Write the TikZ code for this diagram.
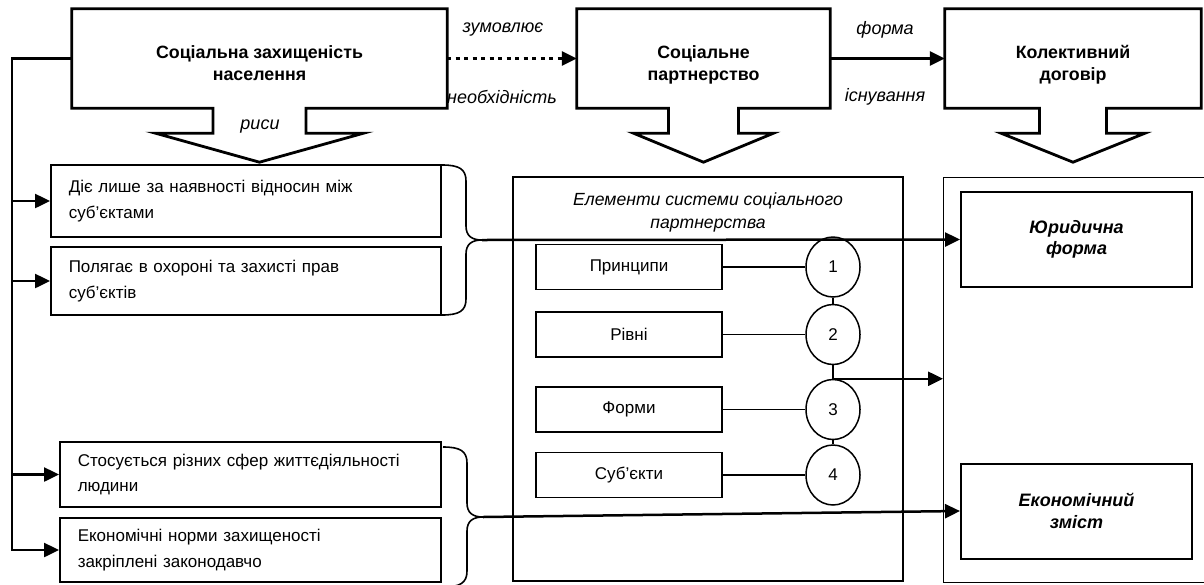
\documentclass[tikz,border=0pt]{standalone}
\usepackage{fontspec}
\setmainfont{Liberation Sans}
\usetikzlibrary{calc,positioning,arrows.meta,shapes.geometric}
\tikzset{
    calloutbox/.style={minimum width=#1, minimum height=99pt, inner sep=0pt, align=center, text height=44pt, text depth=0pt, font=\bfseries\fontsize{17.8}{22}\selectfont},
    callout/.style={line width=2.8pt},
    feature/.style={draw, line width=1.5pt, align=left, anchor=west, inner xsep=18pt, inner ysep=0pt, font=\fontsize{17}{25.5}\selectfont},
    element/.style={draw, line width=1.5pt, minimum width=186pt, minimum height=45pt, inner sep=0pt, font=\fontsize{17}{20}\selectfont},
    num/.style={draw, ellipse, line width=1.5pt, minimum width=54pt, minimum height=60pt, inner sep=0pt, font=\fontsize{17}{20}\selectfont},
    form/.style={draw, line width=2pt, minimum width=231pt, minimum height=95pt, align=center, font=\bfseries\itshape\fontsize{18}{21.5}\selectfont},
    frame/.style={draw, line width=1.4pt, inner sep=0pt},
    line/.style={line width=2.5pt},
    arrow/.style={line width=2.5pt, -{Triangle[length=15pt,width=14pt]}},
    thinline/.style={line width=1.6pt},
    lbl/.style={font=\itshape\fontsize{18}{20}\selectfont},
}
% outline of a box with a down arrow below it
\newcommand{\calloutshape}[3]{%
    \draw[callout] (#1.north west) -- (#1.north east) -- (#1.south east)
        -- ($(#1.south)+(#2,0)$) -- ++(0,25) -- ($(#1.south)+(#3,25)$)
        -- ($(#1.south)+(0,54)$) -- ($(#1.south)+(-#3,25)$)
        -- ($(#1.south)+(-#2,25)$) -- ($(#1.south)+(-#2,0)$) -- (#1.south west) -- cycle;}
% curly brace: x, top, bottom, name of its tip
\newcommand{\tuborg}[4]{%
    \pgfmathsetmacro{\midy}{(#2+#3)/2}
    \draw[thinline] (#1,#2) .. controls (#1+17,#2) and (#1+24,#2+4) .. (#1+24,#2+16)
        -- (#1+24,\midy-14) .. controls (#1+24,\midy-4) and (#1+30,\midy) .. (#1+40,\midy)
        .. controls (#1+30,\midy) and (#1+24,\midy+4) .. (#1+24,\midy+14)
        -- (#1+24,#3-16) .. controls (#1+24,#3-4) and (#1+17,#3) .. (#1,#3);
    \coordinate (#4) at (#1+40,\midy);}
\begin{document}
\begin{tikzpicture}[x=1pt, y=-1pt]
    \useasboundingbox (0,0) rectangle (1204,584);

    % Top blocks
    \node[calloutbox=375pt] (szn) at (259.5,58.5) {Соціальна захищеність\\населення};
    \node[calloutbox=253pt] (partner) at (703.5,58.5) {Соціальне\\партнерство};
    \node[calloutbox=256pt] (contractdoc) at (1073,58.5) {Колективний\\договір};
    \calloutshape{szn}{46.5}{104}
    \calloutshape{partner}{35}{70}
    \calloutshape{contractdoc}{33.5}{72}

    % Links between top blocks
    \draw[arrow, line width=3pt, dash pattern=on 4pt off 4.5pt] (szn.east) -- (partner.west);
    \draw[arrow] (partner.east) -- (contractdoc.west);
    \node[lbl] (cause) at (503,30) {зумовлює};
    \node[lbl] (need) at (502,97) {необхідність};
    \node[lbl] (formlbl) at (885,30) {форма};
    \node[lbl] (exist) at (885,97) {існування};
    \node[lbl] (traits) at (260,127) {риси};

    % Traits
    \node[feature, minimum width=390pt, minimum height=72pt, text width=354pt] (b1) at (50,201) {Діє лише за наявності відносин між\\суб’єктами};
    \node[feature, minimum width=390pt, minimum height=68pt, text width=354pt] (b2) at (50,281) {Полягає в охороні та захисті прав\\суб’єктів};
    \node[feature, minimum width=381pt, minimum height=65pt, text width=345pt] (b3) at (59,474.5) {Стосується різних сфер життєдіяльності\\людини};
    \node[feature, minimum width=381pt, minimum height=64pt, text width=345pt] (b4) at (59,550) {Економічні норми захищеності\\закріплені законодавчо};

    \coordinate (bus) at (12,58.5);
    \draw[arrow] (szn.west) -| (bus |- b4.west) -- (b4.west);
    \foreach \b in {b1,b2,b3}
        \draw[arrow] (bus |- \b.west) -- (\b.west);

    % System of social partnership
    \node[frame, minimum width=390pt, minimum height=404pt] (system) at (708,379) {};
    \node[lbl, align=center, font=\itshape\fontsize{17.6}{23}\selectfont] (systitle) at (708,212) {Елементи системи соціального\\партнерства};
    \foreach \i/\t/\y in {1/Принципи/267, 2/Рівні/334.5, 3/Форми/409.5, 4/Суб’єкти/475} {
        \node[element] (el\i) at (629,\y) {\t};
        \node[num] (n\i) at (833,\y) {\i};
        \draw[thinline] (el\i) -- (n\i);
    }
    \draw[thinline] (n1) -- (n2);
    \draw[thinline] (n2) -- (n3);
    \draw[thinline] (n3) -- (n4);

    % Collective agreement
    \node[frame, minimum width=272pt, minimum height=405pt, anchor=north west] (contract) at (943,177) {};
    \node[form] (yur) at (1076.5,239.5) {Юридична\\форма};
    \node[form] (eco) at (1076.5,511) {Економічний\\зміст};
    \draw[arrow] (n3.north) -- (n3.north -| contract.west);

    % Braces
    \tuborg{442}{165}{315}{tip1}
    \draw[arrow] (tip1) -- (yur.west);
    \tuborg{443}{447}{587}{tip2}
    \draw[arrow] (tip2) -- (eco.west);
\end{tikzpicture}
\end{document}
